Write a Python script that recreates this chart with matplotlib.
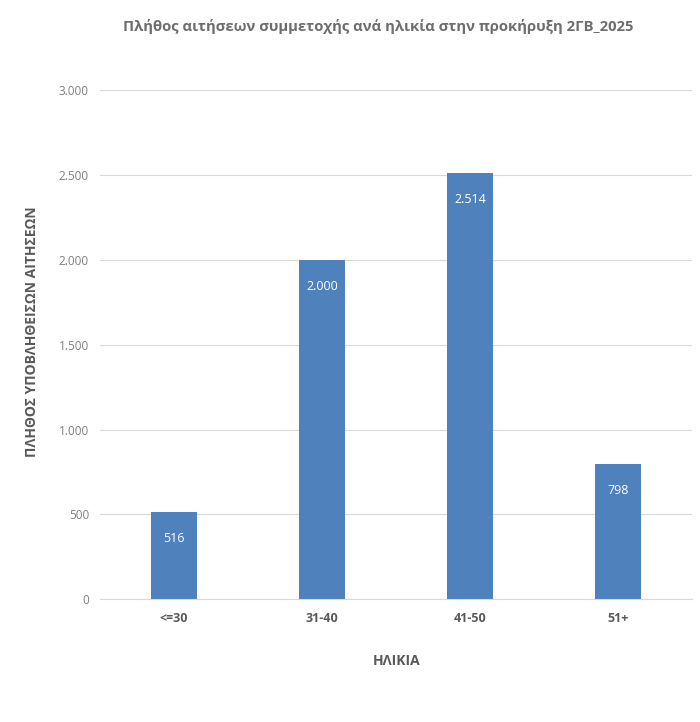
import matplotlib
matplotlib.use("Agg")
import matplotlib.pyplot as plt
from matplotlib.ticker import FuncFormatter

age_groups = ["<=30", "31-40", "41-50", "51+"]
applications = [516, 2000, 2514, 798]
y_ticks = [0, 500, 1000, 1500, 2000, 2500, 3000]


def greek_thousands(v, pos=None):
    # 2500 -> 2.500
    return f"{int(v):,}".replace(",", ".")


plt.rcParams['font.family'] = ['Open Sans', 'DejaVu Sans']

fig = plt.figure(figsize=(7, 7.22), dpi=100)
ax = fig.add_axes([0.143, 0.170, 0.846, 0.705])

bars = ax.bar(range(len(age_groups)), applications, width=0.31, color="#4f81bd")

for b, v in zip(bars, applications):
    ax.annotate(greek_thousands(v), (b.get_x() + b.get_width() / 2, v),
                xytext=(0, -19), textcoords="offset points",
                ha="center", va="center", color="white", fontsize=9)

ax.set_xlim(-0.5, len(age_groups) - 0.5)
ax.set_ylim(0, 3000)
ax.set_yticks(y_ticks)
ax.yaxis.set_major_formatter(FuncFormatter(greek_thousands))
ax.set_xticks(range(len(age_groups)))
ax.set_xticklabels(age_groups, fontweight="bold", fontsize=9)

ax.grid(axis="y", color="#d9d9d9", linewidth=0.8)
ax.set_axisbelow(True)
for s in ["top", "right", "left"]:
    ax.spines[s].set_visible(False)
ax.spines["bottom"].set_color("#d9d9d9")
ax.tick_params(axis="both", length=0, colors="#595959")
ax.tick_params(axis="y", pad=8, labelsize=8.5, labelcolor="#7f7f7f")
ax.tick_params(axis="x", pad=9)

ax.set_xlabel("ΗΛΙΚΙΑ", fontsize=10, fontweight="bold", color="#595959", labelpad=21)
ax.set_ylabel("ΠΛΗΘΟΣ ΥΠΟΒΛΗΘΕΙΣΩΝ ΑΙΤΗΣΕΩΝ", fontsize=10, fontweight="bold",
              color="#595959", labelpad=14)
ax.yaxis.label.set_y(0.525)

fig.text(378 / 700, 1 - 27 / 722, "Πλήθος αιτήσεων συμμετοχής ανά ηλικία στην προκήρυξη 2ΓΒ_2025",
         ha="center", va="center", fontsize=10.7, fontweight="bold", color="#6e6e6e")

fig.savefig("out.png", dpi=100)
